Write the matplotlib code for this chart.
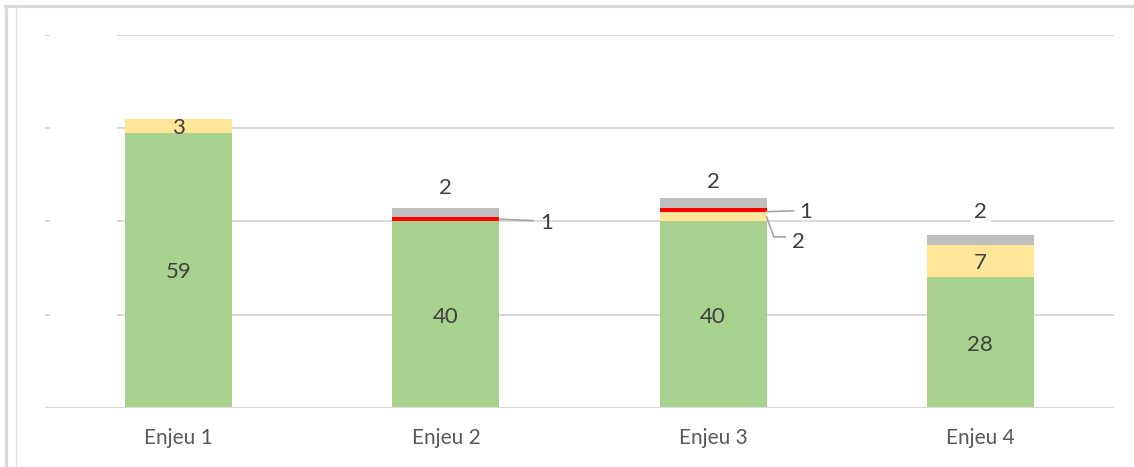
import matplotlib.pyplot as plt
from matplotlib.lines import Line2D

categories = ["Enjeu 1", "Enjeu 2", "Enjeu 3", "Enjeu 4"]
green_vals = [59, 40, 40, 28]
yellow_vals = [3, 0, 2, 7]
red_vals = [0, 1, 1, 0]
gray_vals = [0, 2, 2, 2]

GREEN = "#A9D18E"
YELLOW = "#FFE699"
RED = "#FF0000"
GRAY = "#BFBFBF"
GRID = "#D9D9D9"
LABEL = "#404040"
LEADER = "#A6A6A6"

plt.rcParams["font.family"] = ["Lato", "DejaVu Sans"]

W, H = 1134, 467
fig = plt.figure(figsize=(W / 100, H / 100), dpi=100)
ax = fig.add_axes([45 / W, (H - 408) / H, 1069 / W, 373 / H])
ax.set_xlim(-0.5, 3.5)
ax.set_ylim(0, 80)
ax.axis("off")

# gridlines (start a bit right of the axis, as in the reference)
for y in [20, 40, 60, 80]:
    ax.axhline(y, xmin=73 / 1069, xmax=1, color=GRID, lw=1.4, zorder=0)
    ax.axhline(y, xmin=0, xmax=4 / 1069, color=GRID, lw=1.4, zorder=0)
ax.axhline(0, xmin=0, xmax=1, color=GRID, lw=1.6, zorder=3)

x = list(range(len(categories)))
width = 0.4
bottoms = [0] * len(categories)
for vals, col in [(green_vals, GREEN), (yellow_vals, YELLOW),
                  (red_vals, RED), (gray_vals, GRAY)]:
    ax.bar(x, vals, width, bottom=bottoms, color=col, zorder=2)
    bottoms = [b + v for b, v in zip(bottoms, vals)]

fs = 16
va = "center_baseline"
# green labels
for i, v in enumerate(green_vals):
    ax.text(i, v / 2, str(v), ha="center", va=va, fontsize=fs,
            color=LABEL, zorder=4)

# bar 1 yellow label
ax.text(0, green_vals[0] + yellow_vals[0] / 2, str(yellow_vals[0]),
        ha="center", va=va, fontsize=fs, color=LABEL, zorder=4)
# bar 4 yellow label
ax.text(3, green_vals[3] + yellow_vals[3] / 2, str(yellow_vals[3]),
        ha="center", va=va, fontsize=fs, color=LABEL, zorder=4)

# gray labels above bars
ax.text(1, 47.6, str(gray_vals[1]), ha="center", va=va,
        fontsize=fs, color=LABEL, zorder=4)
ax.text(2, 48.9, str(gray_vals[2]), ha="center", va=va,
        fontsize=fs, color=LABEL, zorder=4)
ax.text(3, 42.5, str(gray_vals[3]), ha="center", va=va,
        fontsize=fs, color=LABEL, zorder=4,
        bbox=dict(facecolor="white", edgecolor="none", pad=3))

# red labels with leader lines
ax.plot([1.2, 1.326], [40.5, 40.2], color=LEADER, lw=1.2, zorder=3)
ax.text(1.378, 40.1, str(red_vals[1]), ha="center", va=va,
        fontsize=fs, color=LABEL, zorder=4)
ax.plot([2.2, 2.30], [42.1, 42.3], color=LEADER, lw=1.2, zorder=3)
ax.text(2.348, 42.5, str(red_vals[2]), ha="center", va=va,
        fontsize=fs, color=LABEL, zorder=4)

# yellow label bar 3 with bent leader
ax.plot([2.2, 2.227, 2.27], [41.0, 36.7, 36.7], color=LEADER, lw=1.2,
        zorder=3)
ax.text(2.318, 36.0, str(yellow_vals[2]), ha="center", va=va,
        fontsize=fs, color=LABEL, zorder=4)

# category labels
for i, c in enumerate(categories):
    ax.text(i, -6.5, c, ha="center", va="center", fontsize=15,
            color="#595959")

# outer frame remnants
fig.add_artist(Line2D([5 / W, 1], [1 - 5.5 / H, 1 - 5.5 / H],
                      transform=fig.transFigure, color=GRID, lw=2.2))
fig.add_artist(Line2D([6 / W, 6 / W], [0, 1 - 5.5 / H],
                      transform=fig.transFigure, color=GRID, lw=2.2))
fig.add_artist(Line2D([15.5 / W, 15.5 / W], [0, 1 - 6 / H],
                      transform=fig.transFigure, color="#E3E3E3", lw=1.0))

fig.savefig("out.png", dpi=100)
